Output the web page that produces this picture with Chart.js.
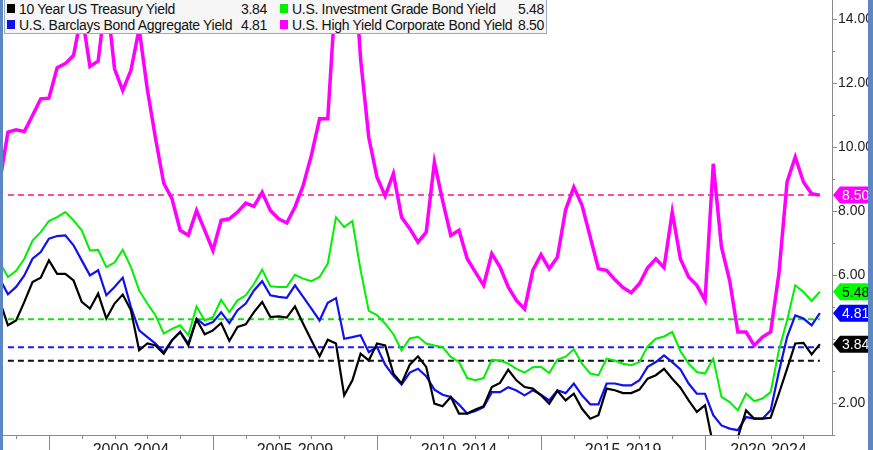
<!DOCTYPE html>
<html><head><meta charset="utf-8">
<script src="https://cdn.jsdelivr.net/npm/chart.js@4"></script>
<style>
html,body{margin:0;padding:0;background:#fff;}
#wrap{position:relative;width:873px;height:450px;overflow:hidden;background:#fff;font-family:"Liberation Sans",Arial,sans-serif;}
#c{position:absolute;left:0;top:0;}
.strip{position:absolute;top:0;height:450px;background:#5b87c5;}
#legend{position:absolute;left:4px;top:-1px;width:543px;height:35px;background:#f6f6f6;border:1px solid #9aaac4;box-sizing:border-box;font-size:14px;letter-spacing:-0.3px;color:#111;}
.item{position:absolute;height:16px;line-height:16px;white-space:nowrap;}
.sw{position:absolute;width:8px;height:9px;top:3px;left:0;}
.nm{position:absolute;left:12px;top:0;}
.val{position:absolute;right:0;top:0;}
</style></head>
<body>
<div id="wrap">
<canvas id="c" width="873" height="450"></canvas>
<div id="legend"></div>
<div class="strip" style="left:0;width:3px"></div>
<div class="strip" style="left:868px;width:5px"></div>
</div>
<script>
// ---- data (quarter-end readings) ----
const quarters = [
 '1998Q2','1998Q3','1998Q4',
 '1999Q1','1999Q2','1999Q3','1999Q4','2000Q1','2000Q2','2000Q3','2000Q4',
 '2001Q1','2001Q2','2001Q3','2001Q4','2002Q1','2002Q2','2002Q3','2002Q4',
 '2003Q1','2003Q2','2003Q3','2003Q4','2004Q1','2004Q2','2004Q3','2004Q4',
 '2005Q1','2005Q2','2005Q3','2005Q4','2006Q1','2006Q2','2006Q3','2006Q4',
 '2007Q1','2007Q2','2007Q3','2007Q4','2008Q1','2008Q2','2008Q3','2008Q4',
 '2009Q1','2009Q2','2009Q3','2009Q4','2010Q1','2010Q2','2010Q3','2010Q4',
 '2011Q1','2011Q2','2011Q3','2011Q4','2012Q1','2012Q2','2012Q3','2012Q4',
 '2013Q1','2013Q2','2013Q3','2013Q4','2014Q1','2014Q2','2014Q3','2014Q4',
 '2015Q1','2015Q2','2015Q3','2015Q4','2016Q1','2016Q2','2016Q3','2016Q4',
 '2017Q1','2017Q2','2017Q3','2017Q4','2018Q1','2018Q2','2018Q3','2018Q4',
 '2019Q1','2019Q2','2019Q3','2019Q4','2020Q1','2020Q2','2020Q3','2020Q4',
 '2021Q1','2021Q2','2021Q3','2021Q4','2022Q1','2022Q2','2022Q3','2022Q4',
 '2023Q1','2023Q2'];

const treasury10y = [
 5.20,4.43,4.58,
 5.16,5.78,5.92,6.46, 6.04,6.04,5.83,5.16,
 4.95,5.42,4.64,5.11, 5.39,4.90,3.65,3.86,
 3.80,3.54,3.96,4.22, 3.80,4.61,4.15,4.27,
 4.50,3.94,4.38,4.46, 4.84,5.16,4.69,4.71,
 4.67,5.02,4.48,3.96, 3.46,3.98,3.86,2.24,
 2.71,3.54,3.33,3.86, 3.80,2.92,2.61,3.20,
 3.46,3.13,1.98,1.90, 2.19,1.67,1.67,1.80,
 1.90,2.50,2.63,3.04, 2.71,2.50,2.45,2.24,
 1.98,2.38,2.08,2.29, 1.82,1.51,1.62,2.45,
 2.40,2.31,2.31,2.42, 2.76,2.87,3.07,2.76,
 2.48,2.08,1.72,1.93, 0.67,0.66,0.69,0.92,
 1.77,1.51,1.51,1.54, 2.29,3.07,3.86,3.88,
 3.52,3.84];

const investmentGrade = [
 6.40,5.94,6.13,
 6.51,7.08,7.34,7.69, 7.81,7.97,7.71,7.40,
 6.77,6.79,6.25,6.39, 6.79,6.25,5.52,5.11,
 4.74,4.17,4.32,4.43, 4.12,5.02,4.58,4.69,
 5.23,4.84,5.21,5.37, 5.73,6.17,5.65,5.63,
 5.63,6.01,5.89,5.81, 5.94,6.36,7.81,7.50,
 7.69,6.15,4.88,4.75, 4.48,4.15,3.65,4.02,
 4.07,3.86,3.80,3.75, 3.44,3.28,2.78,2.71,
 2.78,3.35,3.33,3.23, 3.07,2.95,3.12,3.13,
 2.94,3.36,3.45,3.68, 3.23,2.92,2.87,3.39,
 3.33,3.23,3.18,3.28, 3.77,4.01,4.08,4.22,
 3.62,3.23,2.97,2.92, 3.39,2.19,2.03,1.77,
 2.29,2.06,2.14,2.34, 3.65,4.58,5.68,5.47,
 5.19,5.48];

const aggregate = [
 5.89,5.40,5.63,
 5.99,6.51,6.72,7.14, 7.22,7.24,6.93,6.46,
 5.99,6.15,5.37,5.63, 5.92,5.00,4.27,4.06,
 3.86,3.59,3.96,4.22, 3.86,4.64,4.43,4.53,
 4.84,4.50,4.90,5.11, 5.52,5.81,5.37,5.32,
 5.29,5.68,5.32,4.95, 4.58,5.13,5.28,4.01,
 4.06,4.12,3.59,3.75, 3.20,2.85,2.58,2.95,
 3.07,2.84,2.42,2.26, 2.19,1.95,1.67,1.75,
 1.87,2.34,2.34,2.49, 2.39,2.24,2.40,2.26,
 2.08,2.40,2.31,2.61, 2.24,1.96,1.96,2.61,
 2.61,2.55,2.55,2.71, 3.13,3.28,3.49,3.28,
 3.05,2.61,2.29,2.29, 1.62,1.30,1.20,1.15,
 1.56,1.51,1.51,1.77, 2.97,4.06,4.74,4.64,
 4.43,4.81];

const highYield = [
 8.90,10.47,10.54,
 10.49,10.99,11.51,11.53, 12.48,12.61,12.87,14.20,
 12.52,12.69,14.80,12.45, 11.77,12.40,13.70,11.80,
 10.27,8.87,8.39,7.40, 7.24,8.02,7.40,6.77,
 7.71,7.76,7.97,8.25, 8.15,8.59,8.02,7.76,
 7.63,8.13,8.80,9.74, 10.89,10.89,15.00,19.50,
 16.60,12.76,10.30,9.06, 8.47,9.17,7.81,7.45,
 7.03,7.34,9.53,8.33, 7.24,7.40,6.51,6.09,
 5.68,6.67,6.25,5.63, 5.21,4.94,6.15,6.64,
 6.20,6.56,8.04,8.75, 8.18,7.19,6.20,6.15,
 5.86,5.61,5.45,5.73, 6.23,6.51,6.23,7.97,
 6.50,5.94,5.68,5.21, 9.48,6.88,5.83,4.22,
 4.22,3.80,4.06,4.22, 6.04,8.91,9.69,8.91,
 8.54,8.50];

// horizontal dashed reference levels
const refTreasury = 3.32;
const refInvestmentGrade = 4.62;
const refAggregate = 3.74;
const refHighYield = 8.50;

const seriesNames = ['10 Year US Treasury Yield','U.S. Investment Grade Bond Yield',
                     'U.S. Barclays Bond Aggregate Yield','U.S. High Yield Corporate Bond Yield'];
const periodLabels = ['2000-2004','2005-2009','2010-2014','2015-2019','2020-2024'];
const periodStarts = [2000,2005,2010,2015,2020];
const yTickValues = [2,6,8,10,12,14];
const yTickLabels = ['2.00','6.00','8.00','10.00','12.00','14.00'];

// ---- styling ----
const COL_T = '#000000', COL_IG = '#00f000', COL_AGG = '#1010f0', COL_HY = '#ff00ff';
const FONT = '"Liberation Sans", Arial, sans-serif';
Chart.defaults.font.family = FONT;

const qx = quarters.map(q => +q.slice(0,4) + (+q.slice(5)) * 0.25);
const pts = arr => arr.map((v,i) => ({x: qx[i], y: v}));
const flat = v => [{x: qx[1], y: v}, {x: qx[qx.length-1], y: v}];
const last = arr => arr[arr.length-1];

// legend (HTML)
const legendItems = [
  {name: seriesNames[0], color: COL_T,   val: last(treasury10y),    left: 2,   top: 1,  width: 260},
  {name: seriesNames[1], color: COL_IG,  val: last(investmentGrade),left: 275, top: 1,  width: 264},
  {name: seriesNames[2], color: COL_AGG, val: last(aggregate),      left: 2,   top: 17, width: 260},
  {name: seriesNames[3], color: COL_HY,  val: last(highYield),      left: 275, top: 17, width: 264}
];
document.getElementById('legend').innerHTML = legendItems.map(it =>
  `<div class="item" style="left:${it.left}px;top:${it.top}px;width:${it.width}px">` +
  `<span class="sw" style="background:${it.color}"></span>` +
  `<span class="nm">${it.name}</span><span class="val">${it.val.toFixed(2)}</span></div>`).join('');

const decorations = {
  id: 'decorations',
  afterDraw(chart) {
    const {ctx, chartArea, scales: {x, y}} = chart;
    ctx.save();
    ctx.strokeStyle = '#8a8a8a';
    ctx.lineWidth = 1;
    for (let yr = Math.ceil(x.min); yr <= Math.floor(x.max); yr++) {
      const px = Math.round(x.getPixelForValue(yr)) + 0.5;
      const major = periodStarts.includes(yr);
      ctx.beginPath();
      ctx.moveTo(px, chartArea.bottom);
      ctx.lineTo(px, chartArea.bottom + (major ? 16 : 4));
      ctx.stroke();
    }
    for (let v = Math.ceil(y.min); v <= Math.floor(y.max); v++) {
      if (yTickValues.includes(v)) continue;
      const py = Math.round(y.getPixelForValue(v)) + 0.5;
      ctx.beginPath();
      ctx.moveTo(chartArea.right, py);
      ctx.lineTo(chartArea.right + 3, py);
      ctx.stroke();
    }
    const badges = [
      {v: last(highYield), fill: COL_HY, text: '#ffffff'},
      {v: last(investmentGrade), fill: '#00ff00', text: '#000000'},
      {v: last(aggregate), fill: '#0000ff', text: '#ffffff'},
      {v: last(treasury10y), fill: '#000000', text: '#ffffff'}
    ];
    const x0 = chartArea.right + 1, h = 8.5;
    badges.forEach(b => {
      const py = y.getPixelForValue(b.v);
      ctx.beginPath();
      ctx.moveTo(x0, py);
      ctx.lineTo(x0 + 7, py - h);
      ctx.lineTo(chart.width, py - h);
      ctx.lineTo(chart.width, py + h);
      ctx.lineTo(x0 + 7, py + h);
      ctx.closePath();
      ctx.fillStyle = b.fill;
      ctx.fill();
      ctx.fillStyle = b.text;
      ctx.font = '14px ' + FONT;
      ctx.textBaseline = 'middle';
      ctx.textAlign = 'left';
      ctx.fillText(b.v.toFixed(2), x0 + 9, py + 1);
    });
    ctx.restore();
  }
};

const lineDs = (data, color, width) => ({data, borderColor: color, borderWidth: width,
  pointRadius: 0, tension: 0, fill: false});
const dashDs = (data, color) => ({data, borderColor: color, borderWidth: 2, borderDash: [6,4],
  pointRadius: 0, fill: false});

new Chart(document.getElementById('c'), {
  type: 'line',
  data: {
    datasets: [
      lineDs(pts(highYield), COL_HY, 3.5),
      lineDs(pts(treasury10y), COL_T, 2.2),
      lineDs(pts(aggregate), COL_AGG, 2.2),
      lineDs(pts(investmentGrade), COL_IG, 2),
      dashDs(flat(refHighYield), '#ff4aa0'),
      dashDs(flat(refInvestmentGrade), '#11e011'),
      dashDs(flat(refAggregate), '#1a1aff'),
      dashDs(flat(refTreasury), '#111111')
    ]
  },
  options: {
    responsive: false,
    animation: false,
    events: [],
    layout: {padding: {left: 3, right: 0, top: 0, bottom: 0}},
    plugins: {legend: {display: false}, tooltip: {enabled: false}},
    scales: {
      x: {
        type: 'linear',
        min: 1998.6,
        max: 2023.87,
        grid: {display: false},
        border: {display: true, color: '#8a8a8a', width: 1},
        ticks: {
          autoSkip: false, maxRotation: 0, padding: -2,
          color: '#222', font: {size: 16, family: FONT},
          callback: (v, i) => periodLabels[i]
        },
        afterBuildTicks: s => {
          s.ticks = periodStarts.map(p => ({value: (Math.max(p, s.min) + Math.min(p + 5, s.max)) / 2}));
        },
        afterFit: s => { s.height = 15; s.paddingLeft = 0; s.paddingRight = 0; }
      },
      y: {
        type: 'linear',
        position: 'right',
        min: 1,
        max: 14.6,
        grid: {display: true, drawOnChartArea: false, drawTicks: true, tickLength: 5, color: '#8a8a8a'},
        border: {display: true, color: '#8a8a8a', width: 1},
        ticks: {
          padding: 1, color: '#222', font: {size: 14, family: FONT},
          callback: (v) => { const k = yTickValues.indexOf(v); return k >= 0 ? yTickLabels[k] : ''; }
        },
        afterBuildTicks: s => { s.ticks = yTickValues.map(v => ({value: v})); },
        afterFit: s => { s.width = 41; s.paddingTop = 0; s.paddingBottom = 0; }
      }
    }
  },
  plugins: [decorations]
});
</script>
</body></html>
